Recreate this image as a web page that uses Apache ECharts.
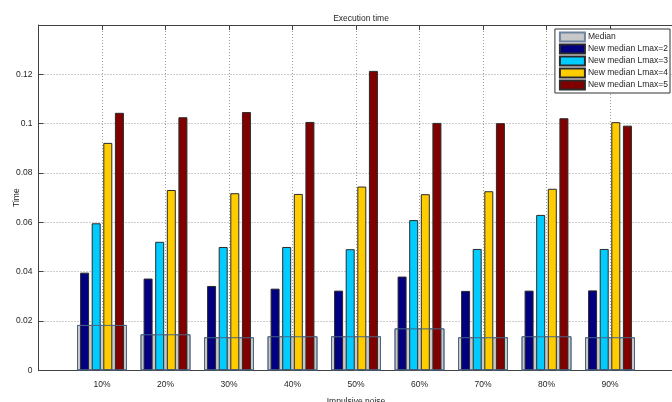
<!DOCTYPE html>
<html>
<head>
<meta charset="utf-8">
<title>Execution time</title>
<script src="https://cdn.jsdelivr.net/npm/echarts@6/dist/echarts.min.js"></script>
<style>
  html, body { margin: 0; padding: 0; background: #ffffff; }
  #chart { width: 672px; height: 402px; }
</style>
</head>
<body>
<div id="chart"></div>
<script>
// Impulsive noise levels (one group of bars per level)
const categories = ['10%', '20%', '30%', '40%', '50%', '60%', '70%', '80%', '90%'];

// Execution times
const median = [0.0184, 0.0146, 0.0134, 0.0138, 0.0138, 0.0170, 0.0134, 0.0138, 0.0134];
const lmax2  = [0.0396, 0.0372, 0.0342, 0.0331, 0.0323, 0.0380, 0.0322, 0.0323, 0.0324];
const lmax3  = [0.0596, 0.0521, 0.0500, 0.0500, 0.0491, 0.0609, 0.0492, 0.0630, 0.0492];
const lmax4  = [0.0922, 0.0731, 0.0718, 0.0715, 0.0745, 0.0714, 0.0726, 0.0736, 0.1006];
const lmax5  = [0.1044, 0.1026, 0.1047, 0.1007, 0.1214, 0.1003, 0.1002, 0.1022, 0.0992];

// Y tick labels (the top of the range, 0.14, carries no label)
const yTickLabels = ['0', '0.02', '0.04', '0.06', '0.08', '0.1', '0.12'];

const FONT = '"Liberation Sans", Arial, sans-serif';
const TEXT = '#262626';
const AXIS = '#404040';
const GRIDLINE = { show: true, lineStyle: { color: '#9a9a9a', width: 1, type: [1, 2] } };

// Groups sit at positions 1..9 on a 0..10 axis
const toPoints = arr => arr.map((v, i) => [i + 1, v]);

const chart = echarts.init(document.getElementById('chart'), null, { renderer: 'canvas' });

const colored = [
  { name: 'New median Lmax=2', data: lmax2, color: '#000080' },
  { name: 'New median Lmax=3', data: lmax3, color: '#00ccff' },
  { name: 'New median Lmax=4', data: lmax4, color: '#ffcc00' },
  { name: 'New median Lmax=5', data: lmax5, color: '#800000' }
];

const option = {
  backgroundColor: '#ffffff',
  animation: false,
  textStyle: { fontFamily: FONT },
  title: {
    text: 'Execution time',
    left: 356,
    top: 9,
    textAlign: 'center',
    textStyle: { fontFamily: FONT, fontSize: 8.5, fontWeight: 'normal', color: TEXT }
  },
  legend: {
    orient: 'vertical',
    right: 2,
    top: 29,
    padding: [2, 2, 2, 4],
    itemGap: 0,
    itemWidth: 25,
    itemHeight: 9,
    backgroundColor: '#ffffff',
    borderColor: '#333333',
    borderWidth: 1,
    borderRadius: 0,
    icon: 'rect',
    data: ['Median'].concat(colored.map(s => s.name)),
    textStyle: { fontFamily: FONT, fontSize: 8.5, color: TEXT, lineHeight: 12, padding: [0, 0, 0, -2] }
  },
  grid: {
    left: 38.5, top: 25, width: 635, height: 345.3,
    containLabel: false, outerBoundsMode: 'none'
  },
  xAxis: [
    {
      type: 'value', min: 0, max: 10, interval: 1, position: 'bottom',
      name: 'Impulsive noise', nameLocation: 'middle', nameGap: 27, nameMoveOverlap: false,
      nameTextStyle: { fontFamily: FONT, fontSize: 8.5, color: TEXT },
      axisLine: { show: true, lineStyle: { color: AXIS, width: 1 } },
      axisTick: { show: true, inside: true, length: 5, lineStyle: { color: AXIS } },
      axisLabel: {
        margin: 10, fontFamily: FONT, fontSize: 8.5, color: TEXT,
        formatter: v => categories[v - 1] || ''
      },
      splitLine: GRIDLINE
    },
    {
      type: 'value', min: 0, max: 10, interval: 1, position: 'top',
      axisLine: { show: true, lineStyle: { color: AXIS, width: 1 } },
      axisTick: { show: true, inside: true, length: 5, lineStyle: { color: AXIS } },
      axisLabel: { show: false },
      splitLine: { show: false }
    }
  ],
  yAxis: {
    type: 'value', min: 0, max: 0.14, interval: 0.02,
    name: 'Time', nameLocation: 'middle', nameGap: 17, nameMoveOverlap: false,
    nameTextStyle: { fontFamily: FONT, fontSize: 8.5, color: TEXT },
    axisLine: { show: true, lineStyle: { color: AXIS, width: 1 } },
    axisTick: { show: true, inside: true, length: 5, lineStyle: { color: AXIS } },
    axisLabel: {
      margin: 6, fontFamily: FONT, fontSize: 8.5, color: TEXT,
      formatter: (v, i) => yTickLabels[i] || ''
    },
    splitLine: GRIDLINE
  },
  series: [
    // Median: wide grey bar behind each group
    {
      name: 'Median', type: 'bar', xAxisIndex: 1, z: 1,
      barWidth: 50, barGap: '-100%',
      itemStyle: { color: '#c8c8c8', borderColor: '#6f84a0', borderWidth: 1 },
      data: toPoints(median)
    },
    // Median outline drawn over the group
    {
      name: 'Median', type: 'bar', xAxisIndex: 1, z: 3,
      barWidth: 50, barGap: '-100%',
      itemStyle: { color: 'rgba(0,0,0,0)', borderColor: '#4a6484', borderWidth: 1 },
      data: toPoints(median),
      silent: true
    }
  ].concat(colored.map(s => ({
    name: s.name, type: 'bar', xAxisIndex: 0, z: 2,
    barWidth: 9, barGap: '29%',
    itemStyle: { color: s.color, borderColor: '#2a2a2a', borderWidth: 1 },
    data: toPoints(s.data)
  })))
};

chart.setOption(option);
</script>
</body>
</html>
